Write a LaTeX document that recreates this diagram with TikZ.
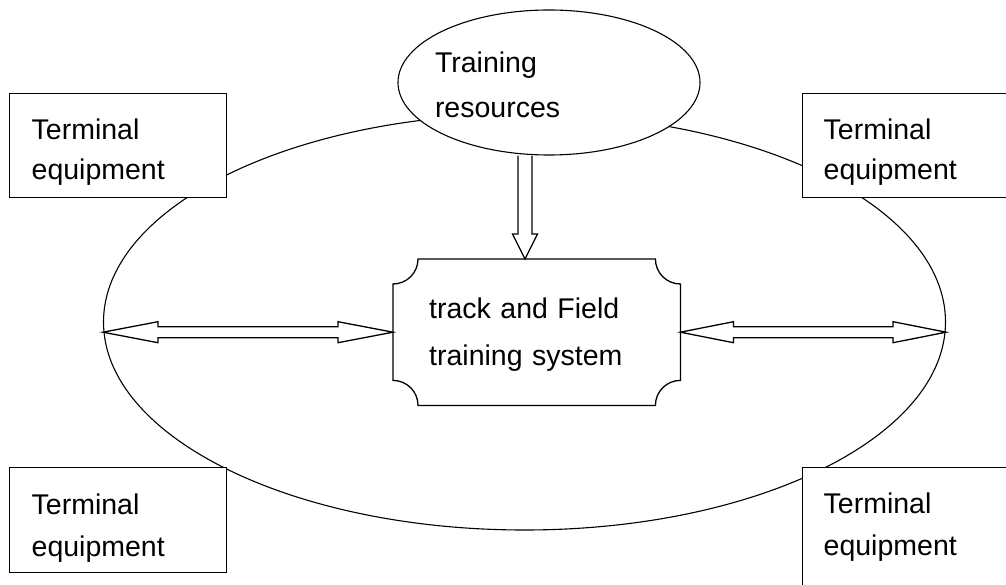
\documentclass[tikz,border=0pt]{standalone}
\usepackage{fontspec}
\setmainfont{Liberation Sans}
\usetikzlibrary{shapes.geometric,calc}
\begin{document}
\begin{tikzpicture}[x=1pt,y=-1pt,
  termbox/.style={draw, fill=white, line width=1.4pt, inner xsep=22pt, inner ysep=0pt,
    text width=173pt, align=left, anchor=north west},
  blockarrow/.style={draw, fill=white, line width=1.3pt, line join=miter},
  ellline/.style={draw, line width=1.1pt},
]
\useasboundingbox (0,0) rectangle (1006,585);
\fill[white] (0,0) rectangle (1006,585);
\clip (0,0) rectangle (1006,585);

% big ellipse
\node[ellline, ellipse, minimum width=842pt, minimum height=416pt, inner sep=0pt] (big) at (524.5,322) {};

% training resources
\node[ellline, fill=white, ellipse, minimum width=302pt, minimum height=145pt,
  inner xsep=-7.5pt, inner ysep=0pt, text width=228pt, align=left,
  font=\fontsize{28.5pt}{45pt}\selectfont] (tr) at (549,82.5)
  {\rule{0pt}{40pt}Training\\resources\rule[-14pt]{0pt}{0pt}};

% terminal boxes
\node[termbox, font=\fontsize{28.5pt}{40pt}\selectfont] (tl) at (9,93)
  {\rule{0pt}{46pt}Terminal\\equipment\rule[-18pt]{0pt}{0pt}};
\node[termbox, inner xsep=21pt, text width=175pt, font=\fontsize{28.5pt}{40pt}\selectfont] (trt) at (802,93)
  {\rule{0pt}{46pt}Terminal\\equipment\rule[-18pt]{0pt}{0pt}};
\node[termbox, font=\fontsize{28.5pt}{42pt}\selectfont] (bl) at (9,467)
  {\rule{0pt}{47pt}Terminal\\equipment\rule[-16pt]{0pt}{0pt}};
\node[termbox, inner xsep=21pt, text width=175pt, font=\fontsize{28.5pt}{42pt}\selectfont] (br) at (802,467)
  {\rule{0pt}{46pt}Terminal\\equipment\rule[-40pt]{0pt}{0pt}};

% central system node
\node[inner xsep=36pt, inner ysep=0pt, text width=215pt, align=left, anchor=north west,
  font=\fontsize{28.5pt}{47pt}\selectfont] (sys) at (393,259)
  {\rule{0pt}{59pt}track and Field\\training system\rule[-40pt]{0pt}{0pt}};
\draw[line width=1.3pt]
  ($(sys.north west)+(0,25)$) arc[start angle=90,end angle=0,radius=25]
  -- ($(sys.north east)+(-25,0)$) arc[start angle=180,end angle=90,radius=25]
  -- ($(sys.south east)+(0,-25)$) arc[start angle=270,end angle=180,radius=25]
  -- ($(sys.south west)+(25,0)$) arc[start angle=360,end angle=270,radius=25]
  -- cycle;

% down arrow
\coordinate (dtop) at ($(tr.south)+(-24,0)$);
\coordinate (dtip) at (dtop |- sys.north);
\draw[blockarrow] ($(dtop)+(-7,0)$) -- ($(dtip)+(-7,-25)$) -- ($(dtip)+(-12.5,-25)$)
  -- (dtip) -- ($(dtip)+(12.5,-25)$) -- ($(dtip)+(7,-25)$) -- ($(dtop)+(7,0)$);

% horizontal double arrows
\coordinate (la) at (big.west |- sys.west);
\coordinate (ra) at (big.east |- sys.east);
\draw[blockarrow] (la) -- ++(55,-10.5) -- ++(0,5) -- ($(sys.west)+(-55,-5.5)$) -- ++(0,-5)
  -- (sys.west) -- ++(-55,10.5) -- ++(0,-5) -- ($(la)+(55,5.5)$) -- ++(0,5) -- cycle;
\draw[blockarrow] (sys.east) -- ++(53,-10.5) -- ++(0,5) -- ($(ra)+(-53,-5.5)$) -- ++(0,-5)
  -- (ra) -- ++(-53,10.5) -- ++(0,-5) -- ($(sys.east)+(53,5.5)$) -- ++(0,5) -- cycle;
\end{tikzpicture}
\end{document}
